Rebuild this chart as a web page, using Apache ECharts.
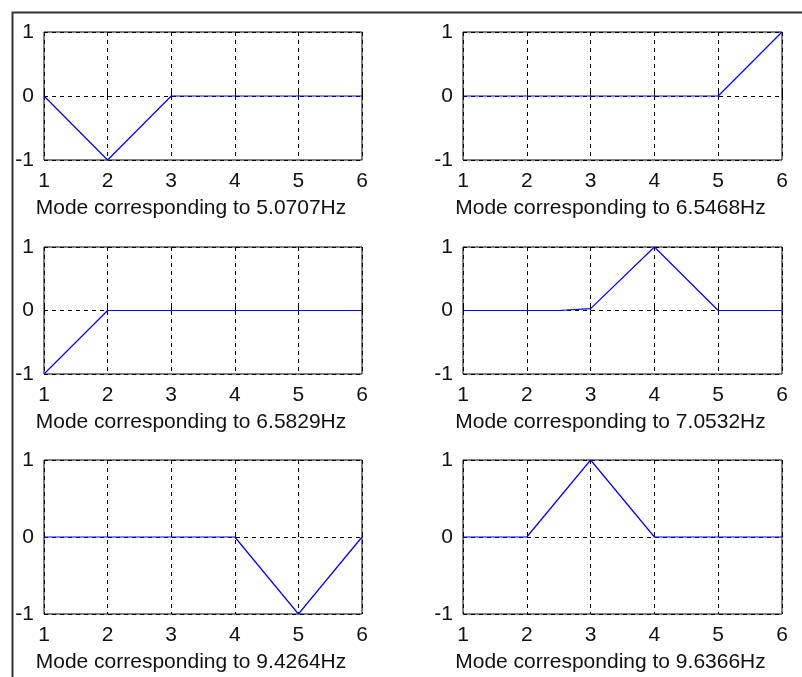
<!DOCTYPE html>
<html>
<head>
<meta charset="utf-8">
<script src="https://cdn.jsdelivr.net/npm/echarts@6/dist/echarts.min.js"></script>
<style>
html,body{margin:0;padding:0;background:#fff;}
#chart{width:802px;height:677px;}
</style>
</head>
<body>
<div id="chart"></div>
<script>
// ---- data ----
const titles = [
  "Mode corresponding to 5.0707Hz",
  "Mode corresponding to 6.5468Hz",
  "Mode corresponding to 6.5829Hz",
  "Mode corresponding to 7.0532Hz",
  "Mode corresponding to 9.4264Hz",
  "Mode corresponding to 9.6366Hz"
];
const xTicks = [1, 2, 3, 4, 5, 6];
const yTicks = [-1, 0, 1];
const x1 = [1, 2, 3, 4, 5, 6], y1 = [0, -1, 0, 0, 0, 0];
const x2 = [1, 2, 3, 4, 5, 6], y2 = [0, 0, 0, 0, 0, 1];
const x3 = [1, 2, 3, 4, 5, 6], y3 = [-1, 0, 0, 0, 0, 0];
const x4 = [1, 2, 2.5, 2.5, 3, 4, 5, 6], y4 = [0, 0, 0, 0.03, 0.03, 1, 0, 0];
const x5 = [1, 2, 3, 4, 5, 6], y5 = [0, 0, 0, 0, -1, 0];
const x6 = [1, 2, 3, 4, 5, 6], y6 = [0, 0, 1, 0, 0, 0];
const modesX = [x1, x2, x3, x4, x5, x6];
const modesY = [y1, y2, y3, y4, y5, y6];

// ---- layout ----
const cols = [{left: 44, width: 318}, {left: 463, width: 319}];
const rows = [{top: 32, height: 128}, {top: 247, height: 127}, {top: 460, height: 154}];
const FONT = "'Liberation Sans', Arial, sans-serif";
const FS = 21;

const grids = [], xAxes = [], yAxes = [], series = [];
for (let i = 0; i < 6; i++) {
  const c = cols[i % 2], r = rows[Math.floor(i / 2)];
  grids.push({left: c.left, top: r.top, width: c.width, height: r.height,
    show: true, borderColor: '#000', borderWidth: 1, backgroundColor: '#fff'});
  xAxes.push({
    type: 'value', gridIndex: i, min: xTicks[0], max: xTicks[xTicks.length - 1], interval: 1,
    name: titles[i], nameLocation: 'middle', nameGap: 38,
    nameTextStyle: {fontFamily: FONT, fontSize: FS, color: '#111', padding: [0, 24, 0, 0]},
    axisLine: {show: false},
    axisTick: {show: true, inside: true, length: 4, lineStyle: {color: '#000'}},
    axisLabel: {fontFamily: FONT, fontSize: FS, color: '#111', margin: 11},
    splitLine: {show: true, lineStyle: {color: '#000', type: [4, 4], width: 1}}
  });
  yAxes.push({
    type: 'value', gridIndex: i, min: yTicks[0], max: yTicks[yTicks.length - 1], interval: 1,
    axisLine: {show: false},
    axisTick: {show: true, inside: true, length: 4, lineStyle: {color: '#000'}},
    axisLabel: {fontFamily: FONT, fontSize: FS, color: '#111', margin: 10},
    splitLine: {show: true, lineStyle: {color: '#000', type: [4, 4], width: 1}}
  });
  series.push({
    type: 'line', xAxisIndex: i, yAxisIndex: i, symbol: 'none', animation: false,
    color: '#0000ff',
    itemStyle: {color: '#0000ff'},
    lineStyle: {color: '#0000ff', width: 1.2},
    emphasis: {disabled: true},
    data: modesX[i].map((x, k) => [x, modesY[i][k]]),
    z: 5
  });
}

const chart = echarts.init(document.getElementById('chart'));
chart.setOption({
  animation: false,
  backgroundColor: '#fff',
  grid: grids, xAxis: xAxes, yAxis: yAxes, series: series,
  graphic: [{
    type: 'rect', left: 10, top: 10, shape: {width: 1000, height: 1000},
    style: {fill: 'none', stroke: '#333', lineWidth: 2}, z: -1
  }]
});
</script>
</body>
</html>
